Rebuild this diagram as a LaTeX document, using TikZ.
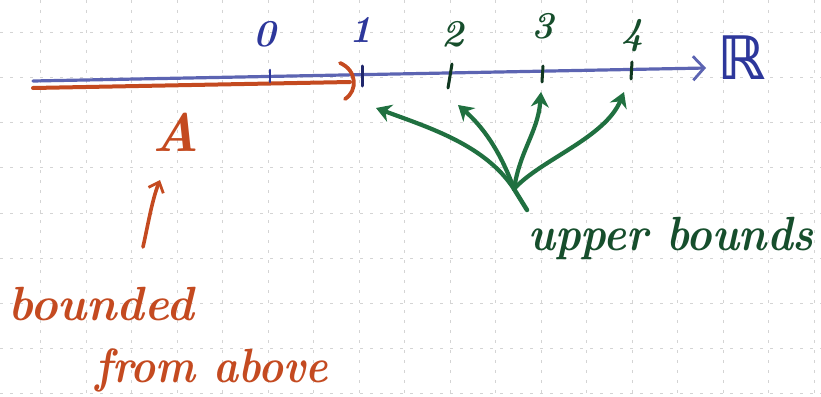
\documentclass[tikz,border=0pt]{standalone}
\usepackage{fontspec}
\newfontfamily\symfont{DejaVu Sans}
\usetikzlibrary{arrows.meta}
\definecolor{inkred}{RGB}{196,74,32}
\definecolor{inkblue}{RGB}{92,100,178}
\definecolor{inkdarkblue}{RGB}{45,55,155}
\definecolor{inkgreen}{RGB}{32,112,64}
\definecolor{inkdarkgreen}{RGB}{22,78,44}
\definecolor{gridgray}{RGB}{212,212,212}
% narrower handwriting-like words
\newcommand{\narrow}[2]{\scalebox{#1}[1]{#2}}
\begin{document}
\begin{tikzpicture}[x=1pt,y=-1pt,
  gridline/.style={gridgray,line width=0.9pt,dash pattern=on 3pt off 7pt},
  numlabel/.style={font=\fontsize{38}{38}\selectfont\bfseries\itshape,inner sep=0pt,anchor=base},
  word/.style={font=\fontsize{48}{48}\selectfont\bfseries\itshape,inner sep=0pt,anchor=base west},
  tickmark/.style={line width=3pt,line cap=round},
  bound/.style={inkgreen,line width=4.2pt,line cap=round,
    -{Stealth[length=15pt,width=18pt]}},
]
% paper and bounding box
\fill[white] (0,0) rectangle (821,396);
\useasboundingbox (0,0) rectangle (821,396);

% dotted squared paper
\foreach \k in {0,...,17} {
  \draw[gridline] ({40.7+45.5*\k},0) -- ({40.7+45.5*\k},396);
}
\foreach \k in {0,...,8} {
  \draw[gridline] (0,{32.3+45.2*\k}) -- (821,{32.3+45.2*\k});
}

% the real line
\coordinate (lineL) at (33,81);
\coordinate (lineR) at (706,68);
\draw[inkblue,line width=3.2pt,line cap=round,
  -{Straight Barb[length=11pt,width=24pt,line width=2.8pt]}] (lineL) -- (lineR);
\node[inkdarkblue,inner sep=0pt,font=\symfont\bfseries\fontsize{60}{60}\selectfont] (reals) at (742,58) {ℝ};

% the set A, open at 1
\coordinate (setL) at (33,88);
\coordinate (setR) at (350,82);
\draw[inkred,line width=4pt,line cap=round] (setL) -- (setR);
\coordinate (parT) at (340,63);
\coordinate (parB) at (345,99);
\draw[inkred,line width=3.8pt,line cap=round] (parT) .. controls (357,70) and (358,91) .. (parB);

% tick marks
\draw[tickmark,inkdarkblue,line width=2.6pt] (270,70) -- (270,82);
\draw[tickmark,inkdarkblue!70!black] (362,66) -- (362,86);
\draw[tickmark,inkdarkgreen!70!black] (452,64) -- (448,88);
\draw[tickmark,inkdarkgreen!70!black] (543,66) -- (542,82);
\draw[tickmark,inkdarkgreen!70!black] (632,62) -- (631,79);

% tick labels
\node[numlabel,inkdarkblue] (n0) at (265,47) {0};
\node[numlabel,inkdarkblue] (n1) at (361,43) {1};
\node[numlabel,inkdarkgreen] (n2) at (453,47) {2};
\node[numlabel,inkdarkgreen] (n3) at (543,38) {3};
\node[numlabel,inkdarkgreen] (n4) at (633,45) {4};

% A and its description
\node[inkred,inner sep=0pt,font=\fontsize{54}{54}\selectfont\bfseries\itshape] (setA) at (176,132) {A};
\coordinate (redtail) at (143,247);
\coordinate (redhead) at (160,180);
\draw[inkred,line width=3.6pt,line cap=round,
  -{Straight Barb[length=9pt,width=16pt,line width=2.8pt]}]
  (redtail) .. controls (148,225) and (152,200) .. (redhead);
\node[word,inkred] (bounded) at (8,320) {\narrow{0.97}{bounded}};
\node[word,inkred] (above) at (95,382) {\narrow{0.88}{from above}};

% upper bounds and their arrows
\node[word,inkdarkgreen] (ub) at (528,250) {\narrow{0.9}{upper bounds}};
\coordinate (stem) at (527,210);
\coordinate (fork) at (514,189);
\coordinate (t1) at (376,108);
\coordinate (t2) at (458,105);
\coordinate (t3) at (541,92);
\coordinate (t4) at (624,92);
\draw[inkgreen,line width=4.5pt,line cap=round] (stem) -- (fork);
\draw[bound] (fork) .. controls (485,145) and (430,128) .. (t1);
\draw[bound] (fork) .. controls (500,150) and (482,126) .. (t2);
\draw[bound] (fork) .. controls (520,150) and (538,132) .. (t3);
\draw[bound] (fork) .. controls (540,160) and (605,138) .. (t4);
\end{tikzpicture}
\end{document}
